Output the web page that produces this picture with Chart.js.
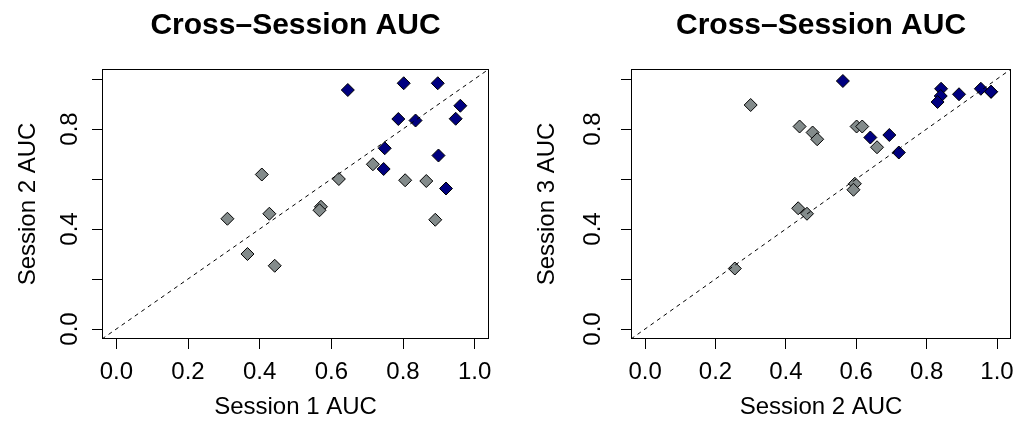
<!DOCTYPE html>
<html>
<head>
<meta charset="utf-8">
<script src="https://cdn.jsdelivr.net/npm/chart.js@4.4.1/dist/chart.umd.min.js"></script>
<style>
  html, body { margin: 0; padding: 0; background: #ffffff; width: 1023px; height: 429px; overflow: hidden; }
  #c1 { position: absolute; left: 0px; top: 0px; }
  #c2 { position: absolute; left: 520px; top: 0px; }
</style>
</head>
<body>
<canvas id="c1" width="520" height="429"></canvas>
<canvas id="c2" width="503" height="429"></canvas>
<script>
// ---------------- data ----------------
const tickValues   = [0, 0.2, 0.4, 0.6, 0.8, 1.0];
const xTickLabels  = ['0.0', '0.2', '0.4', '0.6', '0.8', '1.0'];
const yTickLabels  = ['0.0', '', '0.4', '', '0.8', ''];
const axisRange    = [-0.04, 1.04];
const diagonalLine = [-0.04, 1.04];

const panelTitles = ['Cross\u2013Session AUC', 'Cross\u2013Session AUC'];
const xTitles = ['Session 1 AUC', 'Session 2 AUC'];
const yTitles = ['Session 2 AUC', 'Session 3 AUC'];

// Panel 1: Session 1 (x) vs Session 2 (y)
const p1GreyX = [0.716, 0.621, 0.806, 0.865, 0.406, 0.571, 0.567, 0.427, 0.310, 0.890, 0.366, 0.442];
const p1GreyY = [0.659, 0.600, 0.595, 0.592, 0.618, 0.489, 0.475, 0.461, 0.441, 0.437, 0.300, 0.253];
const p1NavyX = [0.646, 0.802, 0.897, 0.960, 0.787, 0.835, 0.947, 0.749, 0.899, 0.746, 0.920];
const p1NavyY = [0.956, 0.983, 0.983, 0.893, 0.840, 0.834, 0.841, 0.723, 0.694, 0.640, 0.562];

// Panel 2: Session 2 (x) vs Session 3 (y)
const p2GreyX = [0.300, 0.439, 0.476, 0.489, 0.601, 0.617, 0.659, 0.596, 0.592, 0.435, 0.460, 0.255];
const p2GreyY = [0.896, 0.810, 0.786, 0.759, 0.810, 0.810, 0.727, 0.581, 0.557, 0.483, 0.461, 0.242];
const p2NavyX = [0.562, 0.841, 0.840, 0.831, 0.892, 0.954, 0.983, 0.983, 0.640, 0.694, 0.721];
const p2NavyY = [0.992, 0.961, 0.932, 0.908, 0.939, 0.961, 0.949, 0.949, 0.766, 0.776, 0.706];

// ---------------- styling ----------------
const FONT = '"Liberation Sans", Arial, Helvetica, sans-serif';
const GREY = '#838B8B';
const NAVY = '#000080';

Chart.defaults.font.family = FONT;
Chart.defaults.color = '#000000';
Chart.defaults.animation = false;

const zip = (xs, ys) => xs.map((x, i) => ({ x: x, y: ys[i] }));

const framePlugin = {
  id: 'frame',
  afterDraw(chart, args, opts) {
    const { ctx, chartArea: a } = chart;
    ctx.save();
    ctx.strokeStyle = '#000000';
    ctx.lineWidth = 1;
    const l = Math.round(a.left) + 0.5, t = Math.round(a.top) + 0.5;
    const r = Math.round(a.right) - 0.5, b = Math.round(a.bottom) - 0.5;
    ctx.strokeRect(l, t, r - l, b - t);
    ctx.fillStyle = '#000000';
    ctx.font = 'bold 30px ' + FONT;
    ctx.textAlign = 'center';
    ctx.textBaseline = 'alphabetic';
    ctx.fillText(opts.text, (a.left + a.right) / 2, opts.baseline);
    ctx.restore();
  }
};

function makePanel(id, cfg) {
  const ctx = document.getElementById(id);
  return new Chart(ctx, {
    type: 'scatter',
    data: {
      datasets: [
        {
          label: 'identity',
          data: zip(diagonalLine, diagonalLine),
          showLine: true,
          borderColor: '#000000',
          borderWidth: 1,
          borderDash: [4, 4],
          pointRadius: 0,
          pointHoverRadius: 0,
          fill: false
        },
        {
          label: 'navy',
          data: zip(cfg.navyX, cfg.navyY),
          pointStyle: 'rectRot',
          pointRadius: 6.5,
          pointHoverRadius: 6.5,
          backgroundColor: NAVY,
          borderColor: '#000000',
          borderWidth: 1
        },
        {
          label: 'grey',
          data: zip(cfg.greyX, cfg.greyY),
          pointStyle: 'rectRot',
          pointRadius: 6.5,
          pointHoverRadius: 6.5,
          backgroundColor: GREY,
          borderColor: '#000000',
          borderWidth: 1
        }
      ]
    },
    options: {
      responsive: false,
      devicePixelRatio: 1,
      animation: false,
      events: [],
      layout: { padding: cfg.padding },
      plugins: {
        legend: { display: false },
        tooltip: { enabled: false },
        title: { display: false },
        frame: { text: cfg.title, baseline: 33.5 }
      },
      scales: {
        x: {
          type: 'linear',
          position: 'bottom',
          min: axisRange[0],
          max: axisRange[1],
          afterBuildTicks: (s) => { s.ticks = tickValues.map(v => ({ value: v })); },
          afterFit: (s) => { s.height = 88; },
          grid: { drawOnChartArea: false, drawTicks: true, tickLength: 10, color: '#000000', lineWidth: 1 },
          border: { display: false },
          ticks: {
            autoSkip: false,
            maxRotation: 0,
            minRotation: 0,
            padding: cfg.xTickPad,
            font: { size: 24 },
            color: '#000000',
            callback: (v, i) => xTickLabels[i]
          },
          title: {
            display: true,
            text: cfg.xTitle,
            font: { size: 24 },
            color: '#000000',
            padding: { top: 0, bottom: cfg.xTitlePad }
          }
        },
        y: {
          type: 'linear',
          position: 'left',
          min: axisRange[0],
          max: axisRange[1],
          afterBuildTicks: (s) => { s.ticks = tickValues.map(v => ({ value: v })); },
          afterFit: (s) => { s.width = 100; },
          grid: { drawOnChartArea: false, drawTicks: true, tickLength: 10, color: '#000000', lineWidth: 1 },
          border: { display: false },
          ticks: {
            autoSkip: false,
            minRotation: 90,
            maxRotation: 90,
            crossAlign: 'center',
            padding: cfg.yTickPad,
            font: { size: 24 },
            color: '#000000',
            callback: (v, i) => yTickLabels[i]
          },
          title: {
            display: true,
            text: cfg.yTitle,
            font: { size: 24 },
            color: '#000000',
            padding: { top: cfg.yTitlePad, bottom: 0 }
          }
        }
      }
    },
    plugins: [framePlugin]
  });
}

makePanel('c1', {
  title: panelTitles[0], xTitle: xTitles[0], yTitle: yTitles[0],
  greyX: p1GreyX, greyY: p1GreyY, navyX: p1NavyX, navyY: p1NavyY,
  padding: { left: 2, right: 31, top: 69, bottom: 2 },
  xTickPad: 9, xTitlePad: 5, yTickPad: 4.6, yTitlePad: 11.5
});

makePanel('c2', {
  title: panelTitles[1], xTitle: xTitles[1], yTitle: yTitles[1],
  greyX: p2GreyX, greyY: p2GreyY, navyX: p2NavyX, navyY: p2NavyY,
  padding: { left: 11, right: 6, top: 69, bottom: 2 },
  xTickPad: 9, xTitlePad: 5, yTickPad: 11, yTitlePad: 2
});
</script>
</body>
</html>
